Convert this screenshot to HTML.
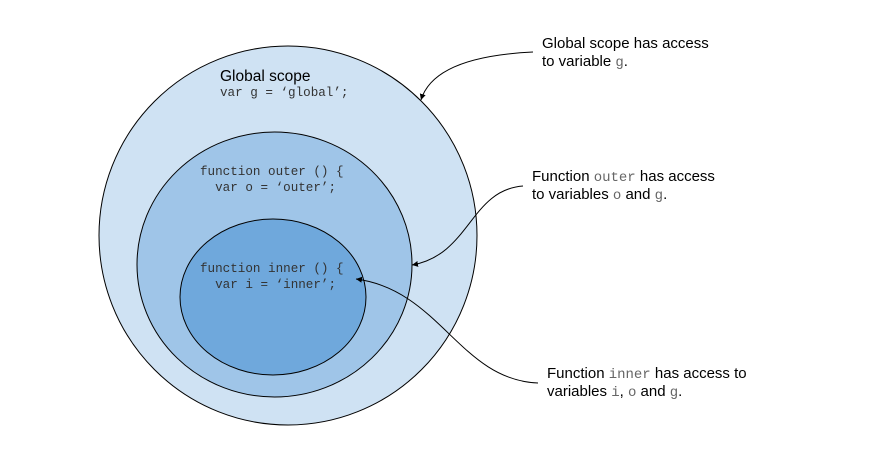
<!DOCTYPE html>
<html><head><style>
html,body{margin:0;padding:0;background:#fff;width:872px;height:467px;overflow:hidden}
svg{display:block}
.s{font-family:"Liberation Sans",sans-serif;font-size:15px;fill:#000}
.m{font-family:"Liberation Mono",monospace;font-size:12.6px;fill:#333}
.mm{font-family:"Liberation Mono",monospace;fill:#666;font-size:14px}
</style></head><body>
<svg width="872" height="467" viewBox="0 0 872 467">
<defs><marker id="a" markerWidth="8" markerHeight="8" refX="6" refY="3" orient="auto" markerUnits="userSpaceOnUse"><path d="M0,0 L6,3 L0,6 z" fill="#000"/></marker></defs>
<ellipse cx="288" cy="235.5" rx="189" ry="189.5" fill="#cfe2f3" stroke="#000" stroke-width="1"/>
<ellipse cx="274.5" cy="264.5" rx="137.5" ry="132.5" fill="#9fc5e8" stroke="#000" stroke-width="1"/>
<ellipse cx="273" cy="297" rx="93" ry="78" fill="#6fa8dc" stroke="#000" stroke-width="1"/>
<text class="s" x="220" y="81" style="font-size:15.5px">Global scope</text>
<text class="m" x="220" y="96" xml:space="preserve">var g = ‘global’;</text>
<text class="m" x="200" y="175" xml:space="preserve">function outer () {</text>
<text class="m" x="200" y="191" xml:space="preserve">  var o = ‘outer’;</text>
<text class="m" x="200" y="272" xml:space="preserve">function inner () {</text>
<text class="m" x="200" y="288" xml:space="preserve">  var i = ‘inner’;</text>
<path d="M533,52 C470,55 430,70 421,100" fill="none" stroke="#000" marker-end="url(#a)"/>
<path d="M523,186 C470,190 470,255 412,265" fill="none" stroke="#000" marker-end="url(#a)"/>
<path d="M538,383 C460,380 440,290 356,279" fill="none" stroke="#000" marker-end="url(#a)"/>
<text class="s" x="542" y="48">Global scope has access</text>
<text class="s" x="542" y="66">to variable <tspan class="mm">g</tspan>.</text>
<text class="s" x="532" y="181">Function <tspan class="mm">outer</tspan> has access</text>
<text class="s" x="532" y="199">to variables <tspan class="mm">o</tspan> and <tspan class="mm">g</tspan>.</text>
<text class="s" x="547" y="378">Function <tspan class="mm">inner</tspan> has access to</text>
<text class="s" x="547" y="396">variables <tspan class="mm">i</tspan>, <tspan class="mm">o</tspan> and <tspan class="mm">g</tspan>.</text>
</svg>
</body></html>
